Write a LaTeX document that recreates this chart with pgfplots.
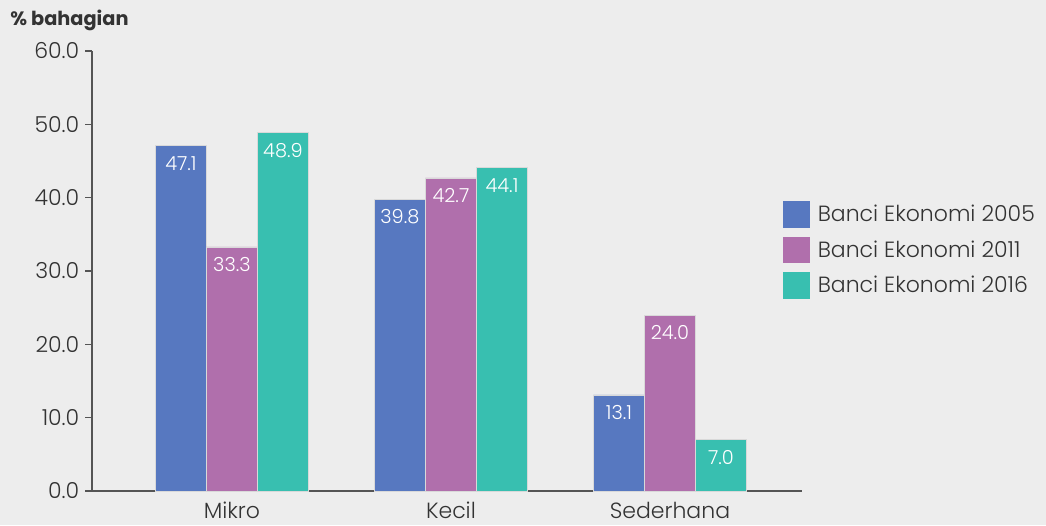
\documentclass[border=0pt]{standalone}
\usepackage{pgfplots}
\pgfplotsset{compat=1.18}
\usepackage{fontspec}
\setmainfont{Poppins}[UprightFont={* Light}, BoldFont={* Bold}]
\definecolor{bg}{HTML}{EDEDED}
\definecolor{cA}{HTML}{5778C0}
\definecolor{cB}{HTML}{B06FAC}
\definecolor{cC}{HTML}{38BFB0}
\definecolor{axc}{HTML}{555555}
\definecolor{txt}{HTML}{333333}
\begin{document}
\begin{tikzpicture}
\fill[bg] (-69pt,-25.5pt) rectangle (715.5pt,368.25pt);
\useasboundingbox (-69pt,-25.5pt) rectangle (715.5pt,368.25pt);
\node[anchor=west, font=\bfseries\fontsize{14.5}{16}\selectfont, text=txt, inner sep=0pt] at (-61.5pt,353.25pt) {\% bahagian};
\begin{axis}[
  at={(0,0)}, anchor=south west,
  scale only axis, width=532.5pt, height=330pt,
  xmin=-0.639, xmax=2.603, ymin=0, ymax=60,
  axis lines*=left,
  axis line style={axc, line width=0.9pt},
  every tick/.style={axc, line width=0.9pt},
  tick align=outside,
  ytick={0,10,...,60},
  major tick length=5pt,
  xtick={0,1,2},
  xticklabels={Mikro,Kecil,Sederhana},
  x tick style={draw=none},
  extra x ticks={-0.639,0.5,1.5},
  extra x tick labels={},
  extra x tick style={tick style={axc, line width=0.9pt}, major tick length=6pt},
  ticklabel style={font=\fontsize{16.5}{19}\selectfont, text=txt},
  yticklabel style={xshift=-1pt},
  /pgf/number format/assume math mode=true,
  yticklabel style={/pgf/number format/fixed, /pgf/number format/fixed zerofill, /pgf/number format/precision=1},
  ybar=0pt, bar width=0.233,
  every axis plot/.append style={draw=white!85!black, line width=0.4pt},
  nodes near coords,
  nodes near coords style={/pgf/number format/fixed, /pgf/number format/fixed zerofill, /pgf/number format/precision=1},
  every node near coord/.append style={anchor=north, yshift=-4.5pt, text=white, font=\fontsize{14.5}{16}\selectfont},
  legend style={draw=none, fill=none, at={(axis description cs:0.973,0.548)}, anchor=west, inner sep=0pt, font=\fontsize{16.5}{19}\selectfont, text=txt, row sep=6.5pt, column sep=4pt},
  legend cell align=left,
  legend image code/.code={\fill[#1, draw=none] (0pt,-10pt) rectangle (20pt,10pt);},
]
\addplot[fill=cA] coordinates {(0,47.1) (1,39.8) (2,13.1)};
\addplot[fill=cB] coordinates {(0,33.3) (1,42.7) (2,24.0)};
\addplot[fill=cC] coordinates {(0,48.9) (1,44.1) (2,7.0)};
\legend{Banci Ekonomi 2005, Banci Ekonomi 2011, Banci Ekonomi 2016}
\end{axis}
\end{tikzpicture}
\end{document}
